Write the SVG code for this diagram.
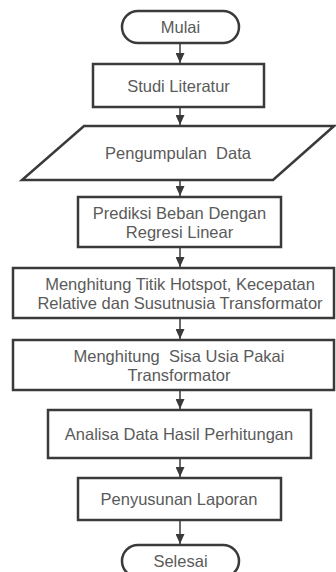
<svg xmlns="http://www.w3.org/2000/svg" width="336" height="572" viewBox="0 0 336 572">
<style>
.s{fill:#fff;stroke:#3a3a3a;stroke-width:2.5}
.t{font-family:"Liberation Sans",Arial,sans-serif;font-size:16.5px;fill:#5a5a5a;text-anchor:middle}
.c{stroke:#3a3a3a;stroke-width:1.5;fill:none;marker-end:url(#a)}
</style>
<defs>
<marker id="a" markerUnits="userSpaceOnUse" markerWidth="10" markerHeight="9" refX="10" refY="4.5" orient="auto">
<path d="M0,0 L10,4.5 L0,9 Z" fill="#3a3a3a"/>
</marker>
</defs>
<g id="connectors">
<line class="c" x1="180" y1="43" x2="180" y2="63"/>
<line class="c" x1="180" y1="107" x2="180" y2="125"/>
<line class="c" x1="180" y1="180" x2="180" y2="196"/>
<line class="c" x1="180" y1="247" x2="180" y2="267"/>
<line class="c" x1="180" y1="318" x2="180" y2="339"/>
<line class="c" x1="180" y1="390" x2="180" y2="409"/>
<line class="c" x1="180" y1="458" x2="180" y2="477"/>
<line class="c" x1="180" y1="520" x2="180" y2="544"/>
</g>
<g id="mulai">
<rect class="s" x="122" y="11" width="117" height="32" rx="16"/>
<text class="t" x="180.5" y="33">Mulai</text>
</g>
<g id="studi">
<rect class="s" x="93" y="64" width="171" height="43"/>
<text class="t" x="178.5" y="91.5">Studi Literatur</text>
</g>
<g id="pengumpulan">
<polygon class="s" points="84,126 334,126 273,180 22,180"/>
<text class="t" x="178" y="159" xml:space="preserve">Pengumpulan  Data</text>
</g>
<g id="prediksi">
<rect class="s" x="78" y="197" width="203" height="50"/>
<text class="t" x="179.5" y="218.5">Prediksi Beban Dengan</text>
<text class="t" x="179.5" y="237.5">Regresi Linear</text>
</g>
<g id="hotspot">
<rect class="s" x="13" y="268" width="321" height="50"/>
<text class="t" x="180" y="289.5">Menghitung Titik Hotspot, Kecepatan</text>
<text class="t" x="180" y="308.5">Relative dan Susutnusia Transformator</text>
</g>
<g id="sisa">
<rect class="s" x="13" y="340" width="321" height="50"/>
<text class="t" x="179" y="361.5" xml:space="preserve">Menghitung  Sisa Usia Pakai</text>
<text class="t" x="179" y="380.5">Transformator</text>
</g>
<g id="analisa">
<rect class="s" x="48" y="410" width="263" height="48"/>
<text class="t" x="179" y="440">Analisa Data Hasil Perhitungan</text>
</g>
<g id="penyusunan">
<rect class="s" x="78" y="478" width="203" height="42"/>
<text class="t" x="179" y="505">Penyusunan Laporan</text>
</g>
<g id="selesai">
<rect class="s" x="122" y="545" width="117" height="32" rx="16"/>
<text class="t" x="180.5" y="567">Selesai</text>
</g>
</svg>
